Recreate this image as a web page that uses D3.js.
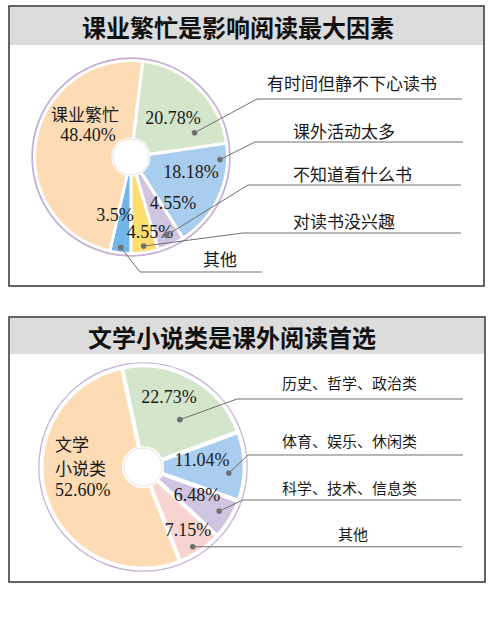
<!DOCTYPE html>
<html>
<head>
<meta charset="utf-8">
<script src="https://cdn.jsdelivr.net/npm/d3@7"></script>
<style>
  body { margin: 0; background: #fff; }
</style>
</head>
<body>
<div id="chart"></div>
<script>
// --- data: chart 1 (reasons) ---
const reasonTitle = "课业繁忙是影响阅读最大因素";
const reasonNames = ["有时间但静不下心读书", "课外活动太多", "不知道看什么书", "对读书没兴趣", "其他", "课业繁忙"];
const reasonShares = [20.78, 18.18, 4.55, 4.55, 3.5, 48.40];
const reasonTexts = ["20.78%", "18.18%", "4.55%", "4.55%", "3.5%", "48.40%"];

// --- data: chart 2 (genres) ---
const genreTitle = "文学小说类是课外阅读首选";
const genreNames = ["历史、哲学、政治类", "体育、娱乐、休闲类", "科学、技术、信息类", "其他", "文学小说类"];
const genreShares = [22.73, 11.04, 6.48, 7.15, 52.60];
const genreTexts = ["22.73%", "11.04%", "6.48%", "7.15%", "52.60%"];

// colours
const reasonColors = ["#d3e5cb", "#a9cdee", "#d0c5e1", "#fddd6c", "#72b5e8", "#fddbb4"];
const genreColors = ["#d3e5cb", "#a9cdee", "#d0c5e1", "#f7d4d0", "#fddbb4"];

const svg = d3.select("#chart").append("svg")
    .attr("width", 500)
    .attr("height", 631)
    .style("background", "#fff");

const cjk = "'Noto Sans CJK SC', 'Noto Sans', sans-serif";
const serif = "'Liberation Serif', 'DejaVu Serif', serif";

// draws one framed donut panel
function drawPanel(opt) {
    const g = svg.append("g");

    // frame and title bar
    g.append("rect")
        .attr("x", opt.box[0]).attr("y", opt.box[1])
        .attr("width", opt.box[2]).attr("height", opt.box[3])
        .attr("fill", "#fff").attr("stroke", "#333").attr("stroke-width", 1.5);
    g.append("rect")
        .attr("x", opt.box[0] + 1).attr("y", opt.box[1] + 1)
        .attr("width", opt.box[2] - 2).attr("height", opt.barH)
        .attr("fill", "#dcdcdc");
    g.append("text")
        .attr("x", opt.titleX).attr("y", opt.box[1] + opt.barH / 2 + 1)
        .attr("text-anchor", "middle").attr("dominant-baseline", "central")
        .style("font-family", cjk).style("font-weight", 700)
        .style("font-size", "24px").style("fill", "#111")
        .text(opt.title);

    const pie = d3.pie().sort(null)
        .startAngle(opt.start * Math.PI / 180)
        .endAngle((opt.start + 360) * Math.PI / 180);
    const arcs = pie(opt.values);
    const arc = d3.arc().innerRadius(opt.hole).outerRadius(opt.R - 2.5);

    const pg = g.append("g").attr("transform", `translate(${opt.cx},${opt.cy})`);

    // outer ring
    pg.append("circle").attr("r", opt.R - 0.5)
        .attr("fill", "none").attr("stroke", "#c4aed2").attr("stroke-width", 2.5);

    pg.selectAll("path.slice")
        .data(arcs)
        .enter().append("path")
        .attr("class", "slice")
        .attr("d", arc)
        .attr("fill", (d, i) => opt.colors[i])
        .attr("stroke", "#fff")
        .attr("stroke-width", opt.gap)
        .attr("stroke-linejoin", "round");

    pg.append("circle").attr("r", opt.hole)
        .attr("fill", "#fff").attr("stroke", "#ddd").attr("stroke-width", 0.8);

    // value labels inside slices
    arcs.forEach((a, i) => {
        const lay = opt.labels[i];
        if (!lay) return;
        if (lay.head) {
            lay.head.forEach((h, k) => {
                pg.append("text")
                    .attr("x", lay.headX[k]).attr("y", lay.headY[k])
                    .attr("text-anchor", lay.anchor || "middle")
                    .attr("dominant-baseline", "central")
                    .style("font-family", cjk).style("font-size", "17px")
                    .style("fill", "#1a1a1a")
                    .text(h);
            });
        }
        pg.append("text")
            .attr("x", lay.dx).attr("y", lay.dy)
            .attr("text-anchor", lay.anchor || "middle")
            .attr("dominant-baseline", "central")
            .style("font-family", serif).style("font-size", "18px")
            .style("fill", "#1a1a1a")
            .text(opt.texts[i]);
    });

    // leader dots, lines and category names
    arcs.forEach((a, i) => {
        const row = opt.rows[i];
        if (!row) return;
        const ang = a.startAngle + (a.endAngle - a.startAngle) * row.t;
        const [px, py] = d3.pointRadial(ang, row.r);
        const x0 = opt.cx + px, y0 = opt.cy + py;
        const pts = row.elbow ? [[x0, y0], row.elbow, [row.end, row.elbow[1]]]
                              : [[x0, y0], [row.end, y0]];
        g.append("path")
            .attr("d", d3.line()(pts))
            .attr("fill", "none").attr("stroke", "#6f6f6f").attr("stroke-width", 1);
        g.append("circle")
            .attr("cx", x0).attr("cy", y0).attr("r", 2.8)
            .attr("fill", "#707070");
        g.append("text")
            .attr("x", row.textX).attr("y", row.textY)
            .attr("dominant-baseline", "central")
            .style("font-family", cjk).style("font-size", opt.nameSize)
            .style("fill", "#1a1a1a")
            .text(opt.names[i]);
    });
}

drawPanel({
    title: reasonTitle, names: reasonNames, values: reasonShares, texts: reasonTexts,
    colors: reasonColors,
    box: [9, 6, 475, 280], barH: 38, titleX: 238,
    cx: 131, cy: 157, R: 99, hole: 18, start: 7, gap: 3, nameSize: "17px",
    labels: [
        {dx: 42, dy: -39},
        {dx: 60, dy: 15},
        {dx: 42, dy: 46},
        {dx: 19, dy: 75},
        {dx: -16, dy: 58},
        {dx: -43, dy: -22, head: ["课业繁忙"], headX: [-46], headY: [-44]}
    ],
    rows: [
        {t: 0.83, r: 68, elbow: [257, 99], end: 462, textX: 267, textY: 82},
        {t: 0.15, r: 89, elbow: [255, 142], end: 463, textX: 293, textY: 130},
        {t: 0.5, r: 86, elbow: [248, 185], end: 461, textX: 293, textY: 173},
        {t: 0.5, r: 90, elbow: [243, 233], end: 461, textX: 293, textY: 220},
        {t: 0.5, r: 91, elbow: [140, 272], end: 262, textX: 203, textY: 258},
        null
    ]
});

drawPanel({
    title: genreTitle, names: genreNames, values: genreShares, texts: genreTexts,
    colors: genreColors,
    box: [9, 317, 476, 265], barH: 36, titleX: 232,
    cx: 143, cy: 467, R: 104, hole: 19, start: -12, gap: 4, nameSize: "15px",
    labels: [
        {dx: 26, dy: -70},
        {dx: 59, dy: -7},
        {dx: 54, dy: 28},
        {dx: 45, dy: 63},
        {dx: -88, dy: 23, anchor: "start", head: ["文学", "小说类"], headX: [-88, -88], headY: [-24, 0]}
    ],
    rows: [
        {t: 0.61, r: 60, elbow: [237, 399], end: 463, textX: 282, textY: 382},
        {t: 0.61, r: 86, elbow: [248, 455], end: 463, textX: 282, textY: 440},
        {t: 0.45, r: 88, elbow: [243, 500], end: 461, textX: 282, textY: 487},
        {t: 0.59, r: 94, elbow: null, end: 462, textX: 338, textY: 533},
        null
    ]
});
</script>
</body>
</html>
